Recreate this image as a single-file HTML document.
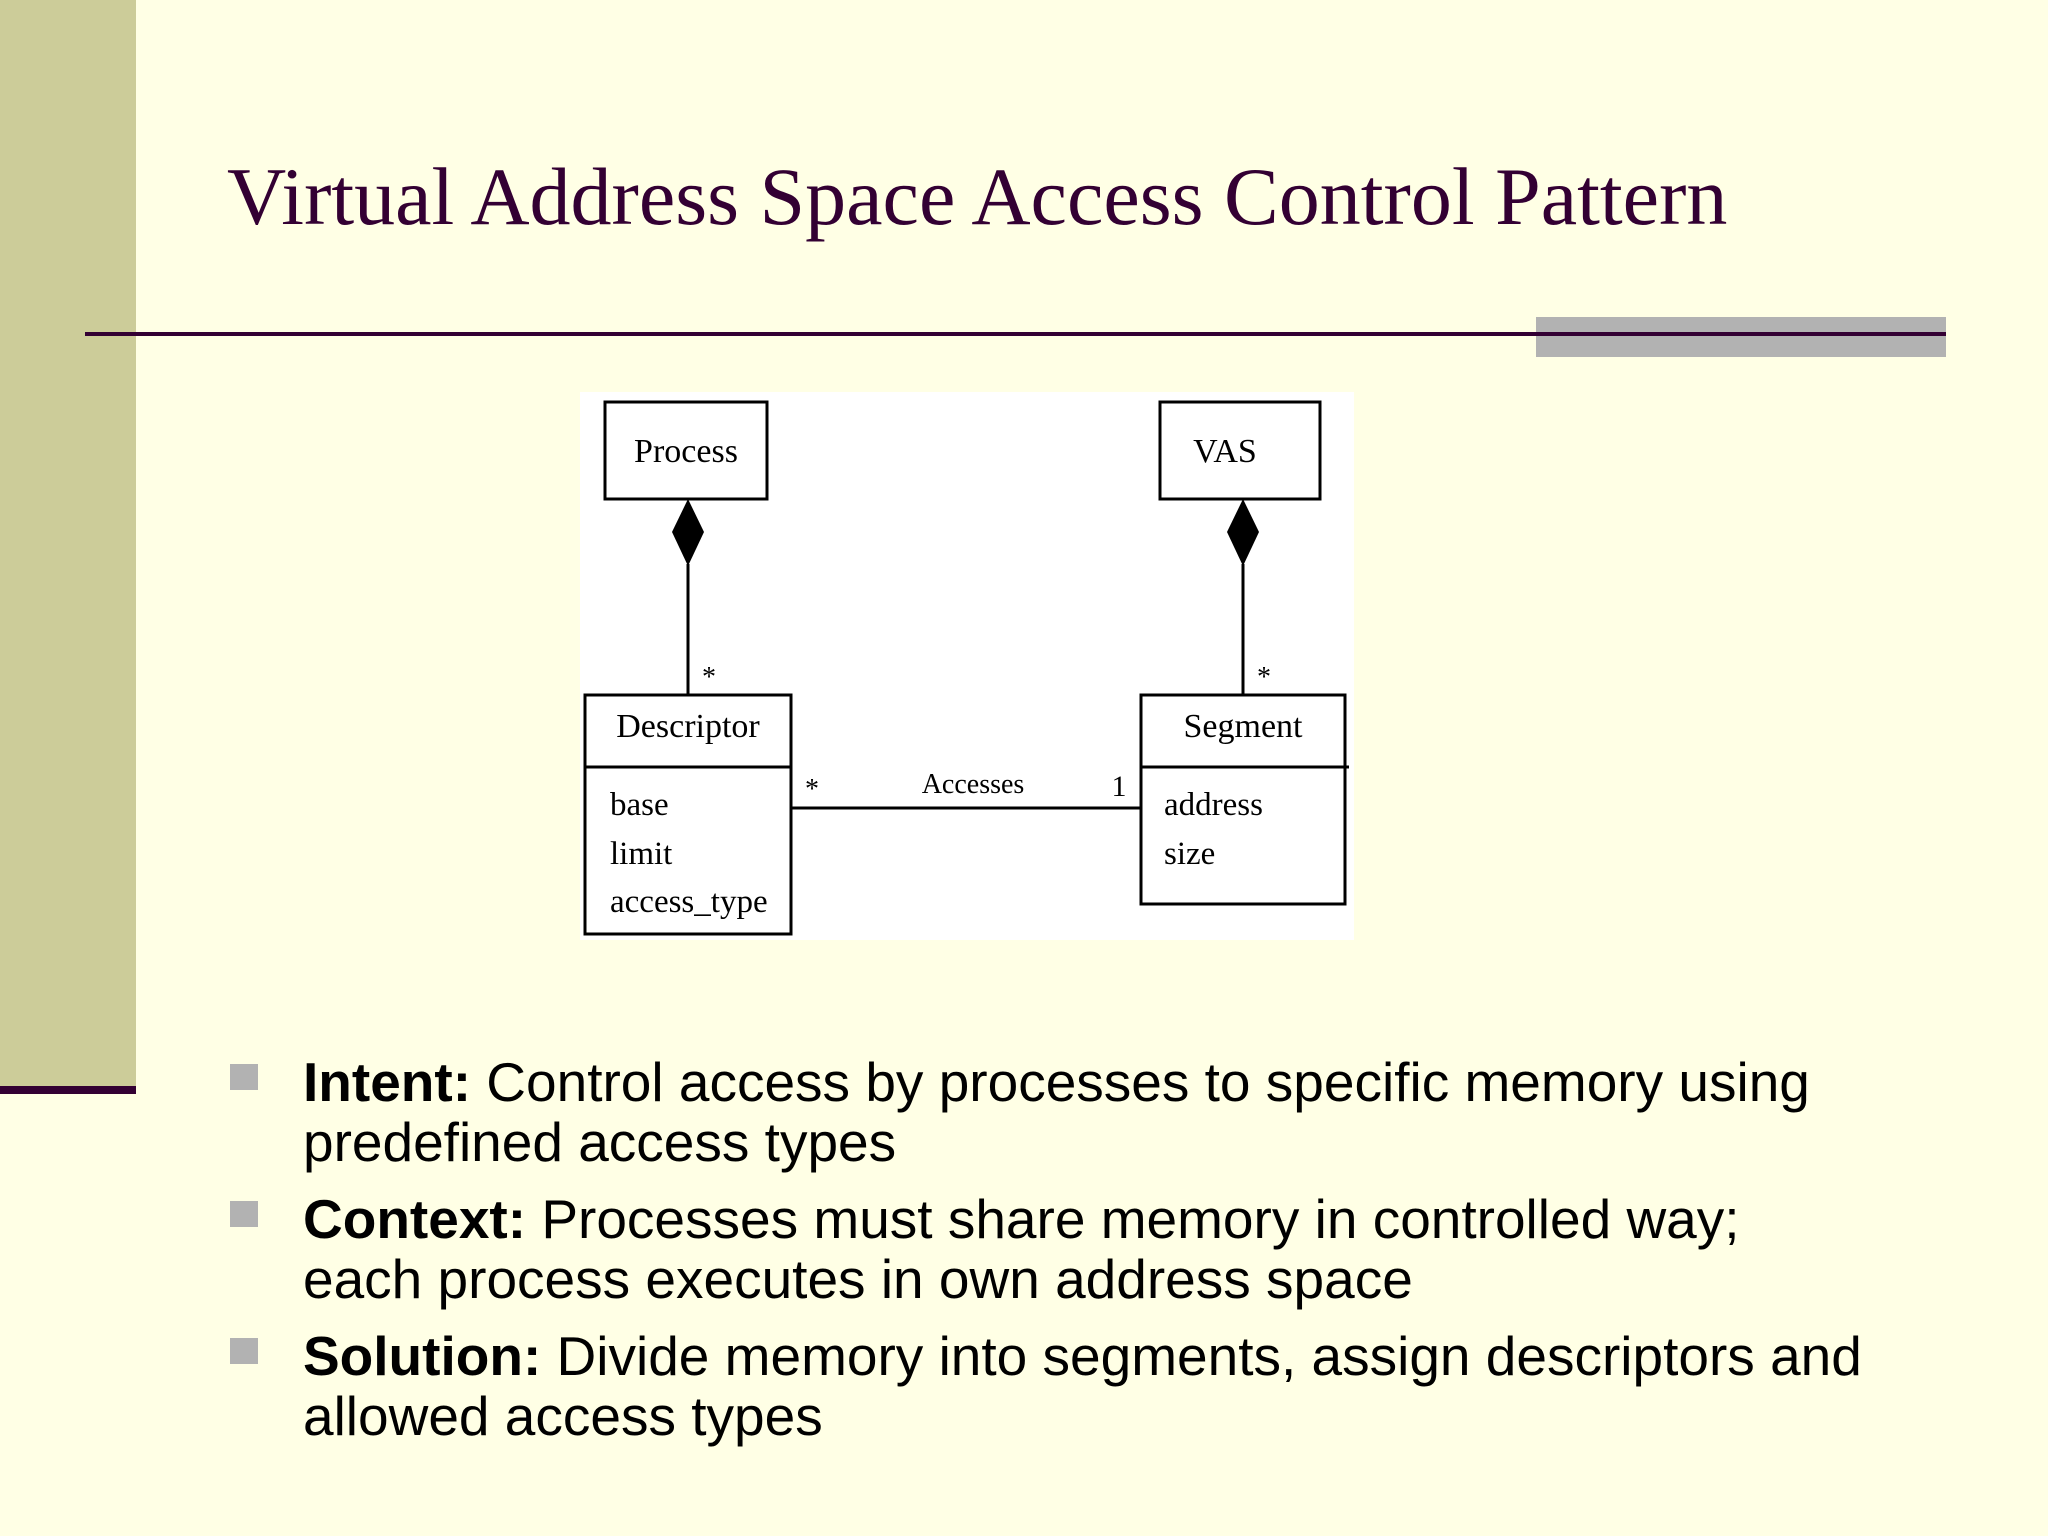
<!DOCTYPE html>
<html><head><meta charset="utf-8"><style>
html,body{margin:0;padding:0;width:2048px;height:1536px;overflow:hidden;background:#ffffe5;}
</style></head><body>
<svg width="2048" height="1536" viewBox="0 0 2048 1536" xmlns="http://www.w3.org/2000/svg">
<rect width="2048" height="1536" fill="#ffffe5"/>
<rect x="0" y="0" width="136" height="1088" fill="#cccc99"/>
<rect x="0" y="1086" width="136" height="8" fill="#330033"/>
<text x="227" y="224" font-family="Liberation Serif, serif" font-size="82" fill="#330033">Virtual Address Space Access Control Pattern</text>
<rect x="1536" y="317" width="410" height="40" fill="#b2b2b2"/>
<rect x="85" y="332" width="1861" height="4" fill="#330033"/>
<rect x="580" y="392" width="774" height="548" fill="#ffffff"/>
<g stroke="#000" stroke-width="3" fill="none">
<rect x="605" y="402" width="162" height="97"/>
<rect x="1160" y="402" width="160" height="97"/>
<rect x="585" y="695" width="206" height="239"/>
<line x1="585" y1="767" x2="791" y2="767"/>
<rect x="1141" y="695" width="204" height="209"/>
<line x1="1141" y1="767" x2="1349" y2="767"/>
<line x1="688" y1="564" x2="688" y2="695"/>
<line x1="1243" y1="564" x2="1243" y2="695"/>
<line x1="791" y1="808" x2="1141" y2="808"/>
</g>
<polygon points="688,499 704,532 688,566 672,532" fill="#000"/>
<polygon points="1243,499 1259,532 1243,566 1227,532" fill="#000"/>
<g font-family="Liberation Serif, serif" fill="#000">
<text x="686" y="462" font-size="34" text-anchor="middle">Process</text>
<text x="1225" y="462" font-size="34" text-anchor="middle">VAS</text>
<text x="688" y="737" font-size="34" text-anchor="middle">Descriptor</text>
<text x="1243" y="737" font-size="34" text-anchor="middle">Segment</text>
<text x="610" y="815" font-size="33">base</text>
<text x="610" y="864" font-size="33">limit</text>
<text x="610" y="912" font-size="33">access_type</text>
<text x="1164" y="815" font-size="33">address</text>
<text x="1164" y="864" font-size="33">size</text>
<text x="973" y="793" font-size="28" text-anchor="middle">Accesses</text>
<text x="812" y="798" font-size="28" text-anchor="middle">*</text>
<text x="1119" y="796" font-size="30" text-anchor="middle">1</text>
<text x="709" y="686" font-size="28" text-anchor="middle">*</text>
<text x="1264" y="686" font-size="28" text-anchor="middle">*</text>
</g>
<g fill="#b2b2b2">
<rect x="230" y="1064" width="28" height="26"/>
<rect x="230" y="1201" width="28" height="26"/>
<rect x="230" y="1338" width="28" height="26"/>
</g>
<g font-family="Liberation Sans, sans-serif" font-size="55" fill="#000">
<text x="303" y="1101"><tspan font-weight="bold">Intent:</tspan> Control access by processes to specific memory using</text>
<text x="303" y="1161">predefined access types</text>
<text x="303" y="1238"><tspan font-weight="bold">Context:</tspan> Processes must share memory in controlled way;</text>
<text x="303" y="1298">each process executes in own address space</text>
<text x="303" y="1375"><tspan font-weight="bold">Solution:</tspan> Divide memory into segments, assign descriptors and</text>
<text x="303" y="1435">allowed access types</text>
</g>
</svg>
</body></html>
